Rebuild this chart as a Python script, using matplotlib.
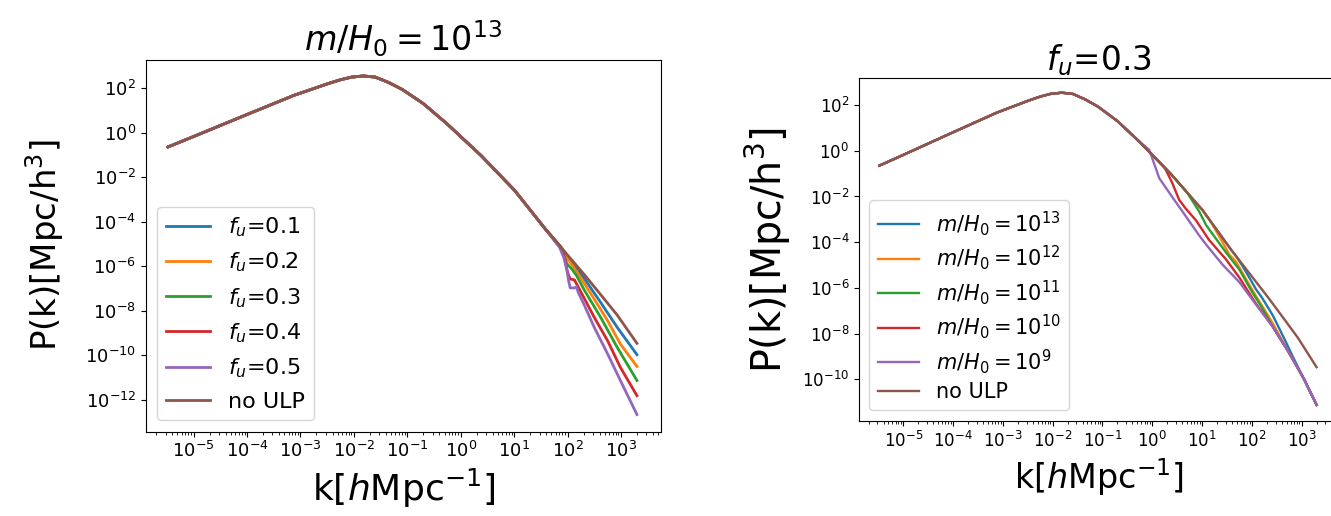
import numpy as np
import matplotlib
matplotlib.use("Agg")
import matplotlib.pyplot as plt
from matplotlib.ticker import LogLocator, NullLocator

# ---------------- data (log10 k, log10 P) ----------------
# shared "no ULP" spectrum
noulp_logk = [-5.48, -5.03, -4.08, -3.12, -2.49, -2.25, -2.04, -1.82, -1.60, -1.35,
              -1.09, -0.70, -0.26, 0.38, 1.01, 1.59, 1.90, 2.32, 2.62, 2.93, 3.30]
noulp_logP = [-0.65, -0.21, 0.73, 1.67, 2.19, 2.37, 2.49, 2.54, 2.49, 2.25,
              1.93, 1.30, 0.40, -1.03, -2.60, -4.35, -5.22, -6.40, -7.28, -8.20, -9.47]

# left panel: m/H0 = 1e13, varying f_u
left_title = r'$m/H_0=10^{13}$'
left_labels = [r'$f_u$=0.1', r'$f_u$=0.2', r'$f_u$=0.3', r'$f_u$=0.4', r'$f_u$=0.5', 'no ULP']
fu01_logk = [1.90, 1.96, 2.08, 2.32, 2.62, 2.93, 3.30]
fu01_logP = [-5.22, -5.45, -5.83, -6.58, -7.63, -8.75, -9.98]
fu02_logk = [1.90, 1.96, 2.05, 2.20, 2.44, 2.75, 2.99, 3.30]
fu02_logP = [-5.22, -5.53, -5.83, -6.35, -7.25, -8.45, -9.50, -10.51]
fu03_logk = [1.88, 1.93, 1.99, 2.08, 2.17, 2.32, 2.62, 2.93, 3.30]
fu03_logP = [-5.16, -5.53, -5.90, -6.13, -6.43, -7.10, -8.30, -9.65, -11.14]
fu04_logk = [1.88, 1.95, 2.00, 2.05, 2.13, 2.17, 2.32, 2.50, 2.75, 2.99, 3.30]
fu04_logP = [-5.16, -5.68, -6.28, -6.58, -6.62, -6.80, -7.48, -8.30, -9.35, -10.55, -11.82]
fu05_logk = [1.75, 1.85, 1.93, 1.99, 2.02, 2.05, 2.14, 2.17, 2.20, 2.32, 2.50, 2.75, 2.99, 3.30]
fu05_logP = [-4.85, -5.15, -5.61, -6.20, -6.65, -6.98, -6.98, -6.92, -7.18, -7.78, -8.75, -9.94, -11.14, -12.67]

# right panel: f_u = 0.3, varying m/H0
right_title = r'$f_u$=0.3'
right_labels = [r'$m/H_0=10^{13}$', r'$m/H_0=10^{12}$', r'$m/H_0=10^{11}$',
                r'$m/H_0=10^{10}$', r'$m/H_0=10^{9}$', 'no ULP']
m13_logk = [1.70, 1.80, 1.95, 2.08, 2.21, 2.42, 2.68, 2.82]
m13_logP = [-4.66, -5.00, -5.55, -6.05, -6.45, -7.20, -8.35, -9.00]
m12_logk = [1.15, 1.28, 1.41, 1.55, 1.68, 1.88, 2.08, 2.28, 2.42, 2.62]
m12_logP = [-3.02, -3.50, -4.00, -4.55, -4.85, -5.60, -6.35, -7.05, -7.55, -8.35]
m11_logk = [0.70, 0.94, 1.08, 1.28, 1.48, 1.75, 2.01, 2.20]
m11_logP = [-1.83, -2.65, -3.25, -3.85, -4.45, -5.20, -6.20, -6.85]
m10_logk = [0.25, 0.40, 0.54, 0.68, 0.88, 1.14, 1.48, 1.75, 2.08]
m10_logP = [-0.74, -1.40, -2.15, -2.55, -3.05, -3.90, -4.75, -5.55, -6.68]
m09_logk = [-0.06, 0.14, 0.41, 0.70, 0.94, 1.08, 1.41, 1.75, 2.08, 2.42, 2.75, 3.05, 3.30]
m09_logP = [0.04, -1.20, -2.05, -2.95, -3.70, -4.10, -4.98, -5.75, -6.72, -7.70, -8.85, -10.00, -11.12]

xtick_exps = [-5, -4, -3, -2, -1, 0, 1, 2, 3]
left_ytick_exps = [2, 0, -2, -4, -6, -8, -10, -12]
right_ytick_exps = [2, 0, -2, -4, -6, -8, -10]

colors = ['#1f77b4', '#ff7f0e', '#2ca02c', '#d62728', '#9467bd', '#8c564b']


def assemble(own_k, own_P, tail_k=None, tail_P=None):
    """Series = no-ULP curve below its branch point + own points (+ merged tail)."""
    k = [x for x in noulp_logk if x < own_k[0]] + list(own_k)
    P = [p for x, p in zip(noulp_logk, noulp_logP) if x < own_k[0]] + list(own_P)
    if tail_k is not None:
        last = own_k[-1]
        k += [x for x in tail_k if x > last]
        P += [p for x, p in zip(tail_k, tail_P) if x > last]
    return 10.0 ** np.array(k), 10.0 ** np.array(P)


left_series = [assemble(fu01_logk, fu01_logP), assemble(fu02_logk, fu02_logP),
               assemble(fu03_logk, fu03_logP), assemble(fu04_logk, fu04_logP),
               assemble(fu05_logk, fu05_logP),
               (10.0 ** np.array(noulp_logk), 10.0 ** np.array(noulp_logP))]
right_series = [assemble(m13_logk, m13_logP, m09_logk, m09_logP),
                assemble(m12_logk, m12_logP, m09_logk, m09_logP),
                assemble(m11_logk, m11_logP, m09_logk, m09_logP),
                assemble(m10_logk, m10_logP, m09_logk, m09_logP),
                assemble(m09_logk, m09_logP),
                (10.0 ** np.array(noulp_logk), 10.0 ** np.array(noulp_logP))]

W, H = 1331, 516
fig = plt.figure(figsize=(W / 100, H / 100), dpi=100)


def px_axes(x0, x1, y0, y1):
    return fig.add_axes([x0 / W, 1 - y1 / H, (x1 - x0) / W, (y1 - y0) / H])


def style(ax, title, tfs, tick_fs, yexps, xlab_fs, ylab_fs, ylab_x):
    ax.set_xscale('log')
    ax.set_yscale('log')
    ax.set_xticks(10.0 ** np.array(xtick_exps, dtype=float))
    ax.xaxis.set_minor_locator(LogLocator(base=10, subs=np.arange(2, 10), numticks=100))
    ax.set_yticks(10.0 ** np.array(yexps, dtype=float))
    ax.yaxis.set_minor_locator(NullLocator())
    ax.tick_params(labelsize=tick_fs)
    ax.set_title(title, fontsize=tfs)
    ax.set_xlabel(r'k[$h$Mpc$^{-1}$]', fontsize=xlab_fs)
    ax.set_ylabel(r'P(k)[Mpc/h$^3$]', fontsize=ylab_fs)
    ax.yaxis.set_label_coords(ylab_x, 0.5)


# left panel
axL = px_axes(146, 661, 59.5, 431.5)
for (k, P), c, lab in zip(left_series, colors, left_labels):
    axL.plot(k, P, color=c, lw=2.0, label=lab)
axL.set_xlim(10 ** -5.89, 10 ** 3.75)
axL.set_ylim(10 ** -13.43, 10 ** 3.28)
style(axL, left_title, 24, 13, left_ytick_exps, 26, 24.5, -0.155)
axL.legend(loc='lower left', fontsize=16, labelspacing=0.52)

# right panel (its right edge is cut by the picture border)
axR = px_axes(859, 1339, 78.3, 420.7)
for (k, P), c, lab in zip(right_series, colors, right_labels):
    axR.plot(k, P, color=c, lw=1.7, label=lab)
axR.set_xlim(10 ** -5.89, 10 ** 3.75)
axR.set_ylim(10 ** -11.81, 10 ** 3.17)
style(axR, right_title, 23.5, 12, right_ytick_exps, 24, 28.5, -0.138)
axR.legend(loc='lower left', fontsize=15, labelspacing=0.28)

fig.savefig('out.png', dpi=100)
